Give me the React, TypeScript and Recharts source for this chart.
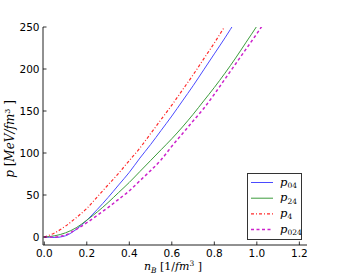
import React from 'react';
import { LineChart, Line, XAxis, YAxis, Legend } from 'recharts';

// baryon density grid [1/fm^3]
const nB = [0, 0.05, 0.1, 0.15, 0.2, 0.25, 0.3, 0.35, 0.4, 0.45, 0.5, 0.55, 0.6, 0.65, 0.7, 0.75, 0.8, 0.85, 0.9, 0.95, 1.0, 1.05];

// pressure [MeV/fm^3]
const p04 = [0, -0.5, 1.5, 9, 20, 33, 47, 62, 77, 94, 110, 127, 144, 162, 180, 199, 218, 237, 257];
const p24 = [0, 1.5, 5, 11, 20, 30, 41, 53, 65, 78, 91, 104, 117, 131, 146, 162, 178, 195, 213, 232, 251, 271];
const p4 = [0, 5, 13, 23, 34, 48, 62, 76, 91, 106, 123, 140, 157, 175, 193, 212, 231, 251, 271];
const p024 = [0, 0, 2.5, 9, 17, 26, 35, 45, 55, 67, 79, 92, 108, 123, 138, 153, 170, 188, 206, 224, 242, 261];

const xTicks = [0, 0.2, 0.4, 0.6, 0.8, 1.0, 1.2];
const yTicks = [0, 50, 100, 150, 200, 250];

const series = [
  { key: 'p04', sub: '04', color: '#4a4aff', dash: undefined, width: 1 },
  { key: 'p24', sub: '24', color: '#3c9c3c', dash: undefined, width: 1 },
  { key: 'p4', sub: '4', color: '#ff2a2a', dash: '3 2 1 2', width: 1.2 },
  { key: 'p024', sub: '024', color: '#cc22cc', dash: '3 2.5', width: 1.5 },
];

const data = nB.map((n, i) => ({ n, p04: p04[i], p24: p24[i], p4: p4[i], p024: p024[i] }));

const tickFont = { fontFamily: 'DejaVu Sans', fontSize: 10.5, fill: '#000' };
const mathFont = { fontFamily: 'DejaVu Serif', fontSize: 11, fill: '#000' };

const BottomTick = (props: any) => {
  const { x, y, payload } = props;
  return (
    <g>
      <line x1={x} x2={x} y1={y} y2={y - 3.5} stroke="#000" strokeWidth={0.8} />
      <text x={x} y={y + 12} textAnchor="middle" {...tickFont}>{payload.value.toFixed(1)}</text>
    </g>
  );
};

const TopTick = (props: any) => {
  const { x, y } = props;
  return <line x1={x} x2={x} y1={y} y2={y + 3.5} stroke="#000" strokeWidth={0.8} />;
};

const LeftTick = (props: any) => {
  const { x, y, payload } = props;
  return (
    <g>
      <line x1={x} x2={x + 3.5} y1={y} y2={y} stroke="#000" strokeWidth={0.8} />
      <text x={x - 3.5} y={y} dy="0.36em" textAnchor="end" {...tickFont}>{payload.value}</text>
    </g>
  );
};

const RightTick = (props: any) => {
  const { x, y } = props;
  return <line x1={x} x2={x - 3.5} y1={y} y2={y} stroke="#000" strokeWidth={0.8} />;
};

const LegendBox = () => (
  <svg width={55} height={67} style={{ display: 'block' }}>
    <rect x={0.5} y={0.5} width={54} height={66} fill="#fff" stroke="#333" strokeWidth={1} />
    {series.map((s, i) => {
      const y = 9.5 + i * 15.7;
      return (
        <g key={s.key}>
          <line x1={4} x2={26} y1={y} y2={y} stroke={s.color} strokeWidth={s.width} strokeDasharray={s.dash} />
          <text x={33} y={y + 3} {...mathFont} fontSize={11.5}>
            <tspan fontStyle="italic">p</tspan>
            <tspan fontSize={7.5} dy={2.5}>{s.sub}</tspan>
          </text>
        </g>
      );
    })}
  </svg>
);

export default function App() {
  return (
    <div style={{ width: 341, height: 273, background: '#fff' }}>
      <style>{'body{margin:0}'}</style>
      <LineChart width={341} height={273} data={data} margin={{ top: 27, right: 34, bottom: 0, left: 0 }}>
        <XAxis
          xAxisId="b"
          dataKey="n"
          type="number"
          domain={[-0.006, 1.236]}
          ticks={xTicks}
          allowDataOverflow
          height={28}
          tickSize={0}
          tickMargin={0}
          tickLine={false}
          axisLine={{ stroke: '#222' }}
          tick={<BottomTick />}
          interval={0}
          label={{
            content: () => (
              <text x={173} y={270} textAnchor="middle" {...mathFont}>
                <tspan fontStyle="italic">n</tspan>
                <tspan fontSize={7.5} dy={2.5} fontStyle="italic">B</tspan>
                <tspan dy={-2.5}>{'  [1/'}</tspan>
                <tspan fontStyle="italic">fm</tspan>
                <tspan fontSize={7.5} dy={-4}>3</tspan>
                <tspan dy={4}>{' ]'}</tspan>
              </text>
            ),
          }}
        />
        <XAxis
          xAxisId="t"
          dataKey="n"
          type="number"
          orientation="top"
          domain={[-0.006, 1.236]}
          ticks={xTicks}
          allowDataOverflow
          height={0}
          tickSize={0}
          tickMargin={0}
          tickLine={false}
          axisLine={{ stroke: '#222' }}
          tick={<TopTick />}
          interval={0}
        />
        <YAxis
          yAxisId="l"
          type="number"
          domain={[-9.5, 250]}
          ticks={yTicks}
          allowDataOverflow
          width={43}
          tickSize={0}
          tickMargin={0}
          tickLine={false}
          axisLine={{ stroke: '#222' }}
          tick={<LeftTick />}
          interval={0}
          label={{
            content: () => (
              <text x={14} y={139} textAnchor="middle" transform="rotate(-90 14 139)" {...mathFont} fontSize={12}>
                <tspan fontStyle="italic">p</tspan>
                <tspan>{'  ['}</tspan>
                <tspan fontStyle="italic">MeV/fm</tspan>
                <tspan fontSize={8} dy={-4}>3</tspan>
                <tspan dy={4}>{' ]'}</tspan>
              </text>
            ),
          }}
        />
        <YAxis
          yAxisId="r"
          orientation="right"
          type="number"
          domain={[-9.5, 250]}
          ticks={yTicks}
          allowDataOverflow
          width={0}
          tickSize={0}
          tickMargin={0}
          tickLine={false}
          axisLine={{ stroke: '#222' }}
          tick={<RightTick />}
          interval={0}
        />
        {series.map((s) => (
          <Line
            key={s.key}
            xAxisId="b"
            yAxisId="l"
            dataKey={s.key}
            type="monotone"
            stroke={s.color}
            strokeWidth={s.width}
            strokeDasharray={s.dash}
            dot={false}
            activeDot={false}
            isAnimationActive={false}
          />
        ))}
        <Legend
          layout="vertical"
          align="center"
          verticalAlign="middle"
          content={() => <LegendBox />}
          wrapperStyle={{ position: 'absolute', left: 247, top: 173, width: 55, height: 67 }}
        />
      </LineChart>
    </div>
  );
}
